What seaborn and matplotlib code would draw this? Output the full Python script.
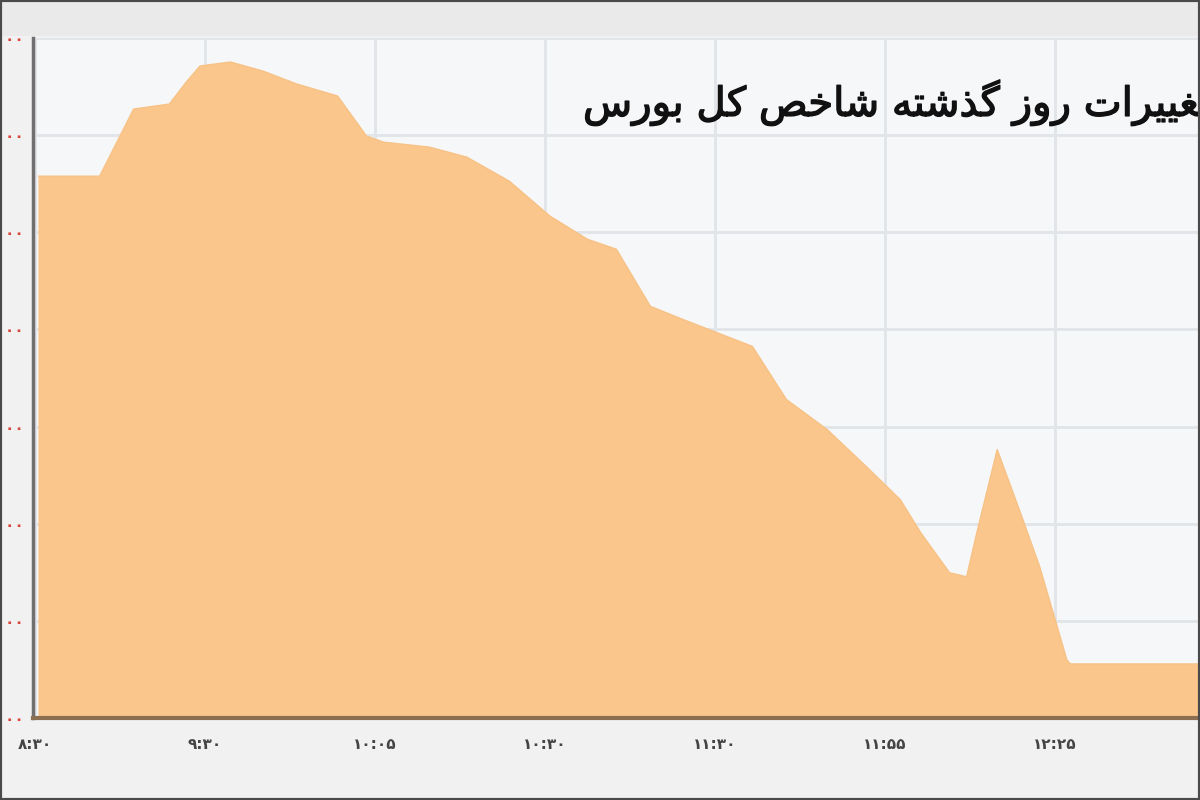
import matplotlib
matplotlib.use("Agg")
import matplotlib.pyplot as plt
import matplotlib.patheffects as pe
import seaborn as sns
import pandas as pd
from matplotlib.patches import Rectangle

# ---------------- data ----------------
title_text = "تغییرات روز گذشته شاخص کل بورس"

# positions along the session axis (tick units) and index values
session_pos = [0.02, 0.38, 0.58, 0.79, 0.89, 0.97, 1.15, 1.34, 1.54, 1.78,
               1.95, 2.05, 2.32, 2.54, 2.79, 3.03, 3.25, 3.42, 3.62, 3.81,
               4.22, 4.42, 4.66, 4.89, 5.09, 5.21, 5.38, 5.48, 5.54, 5.66,
               5.79, 5.91, 6.07, 6.09, 7.09]
index_values = [1431155, 1431155, 1432537, 1432640, 1433093, 1433423, 1433506,
                1433320, 1433052, 1432805, 1431980, 1431856, 1431753, 1431547,
                1431052, 1430330, 1429856, 1429650, 1428475, 1428207, 1427650,
                1426557, 1425938, 1425176, 1424495, 1423815, 1422990, 1422907,
                1423815, 1425526, 1424289, 1423114, 1421196, 1421113, 1421113]

x_tick_pos = [0, 1, 2, 3, 4, 5, 6, 7]
x_tick_labels = ["۸:۳۰", "۹:۳۰", "۱۰:۰۵", "۱۰:۳۰", "۱۱:۳۰", "۱۱:۵۵", "۱۲:۲۵", "۱۲:۵۵"]
y_tick_values = [1420000, 1422000, 1424000, 1426000, 1428000, 1430000, 1432000, 1434000]

df = pd.DataFrame({"pos": session_pos, "value": index_values})

# ---------------- Persian shaping helpers ----------------
FORMS = {
    'ا': ('\uFE8D', '\uFE8E', None, None),
    'ب': ('\uFE8F', '\uFE90', '\uFE91', '\uFE92'),
    'ت': ('\uFE95', '\uFE96', '\uFE97', '\uFE98'),
    'خ': ('\uFEA5', '\uFEA6', '\uFEA7', '\uFEA8'),
    'ذ': ('\uFEAB', '\uFEAC', None, None),
    'ر': ('\uFEAD', '\uFEAE', None, None),
    'ز': ('\uFEAF', '\uFEB0', None, None),
    'س': ('\uFEB1', '\uFEB2', '\uFEB3', '\uFEB4'),
    'ش': ('\uFEB5', '\uFEB6', '\uFEB7', '\uFEB8'),
    'ص': ('\uFEB9', '\uFEBA', '\uFEBB', '\uFEBC'),
    'غ': ('\uFECD', '\uFECE', '\uFECF', '\uFED0'),
    'ل': ('\uFEDD', '\uFEDE', '\uFEDF', '\uFEE0'),
    'ه': ('\uFEE9', '\uFEEA', '\uFEEB', '\uFEEC'),
    'و': ('\uFEED', '\uFEEE', None, None),
    'ک': ('\uFB8E', '\uFB8F', '\uFB90', '\uFB91'),
    'گ': ('\uFB92', '\uFB93', '\uFB94', '\uFB95'),
    'ی': ('\uFBFC', '\uFBFD', '\uFBFE', '\uFBFF'),
}


def shape_rtl(text):
    chars = list(text)
    out = []
    for i, c in enumerate(chars):
        if c not in FORMS:
            out.append(c)
            continue
        prev = chars[i - 1] if i > 0 else None
        nxt = chars[i + 1] if i + 1 < len(chars) else None
        cprev = prev in FORMS and FORMS[prev][2] is not None
        cnext = nxt in FORMS and FORMS[c][2] is not None
        iso, fin, ini, med = FORMS[c]
        if cprev and cnext:
            out.append(med)
        elif cprev:
            out.append(fin)
        elif cnext:
            out.append(ini)
        else:
            out.append(iso)
    return "".join(reversed(out))


FA_DIGITS = str.maketrans("0123456789", "۰۱۲۳۴۵۶۷۸۹")


def fa_number(v):
    return f"{v:,}".translate(FA_DIGITS)


# ---------------- figure ----------------
sns.set_theme(style="white")
plt.rcParams["font.family"] = ["DejaVu Sans"]

fig = plt.figure(figsize=(12, 8), dpi=100)
fig.patch.set_facecolor("#F1F1F1")

# top grey band
fig.add_artist(Rectangle((0, 1 - 36 / 800), 1, 36 / 800, transform=fig.transFigure,
                         facecolor="#EAEAEA", edgecolor="none", zorder=0))

ax = fig.add_axes([33 / 1200, 1 - 718 / 800, 1.0, 680 / 800])
ax.set_facecolor("#F6F7F9")

fill_color = "#FAC68C"
ax.fill_between(df["pos"], df["value"], 1410000, color=fill_color, linewidth=0, zorder=2)
sns.lineplot(data=df, x="pos", y="value", ax=ax, color="#F7C286", linewidth=1.0, zorder=3)

ax.set_xlim(-0.012, 7.047)
ax.set_ylim(1420000, 1434000)

ax.set_xticks(x_tick_pos)
ax.set_xticklabels(x_tick_labels, fontsize=11, color="#444444", fontweight="bold")
ax.set_yticks(y_tick_values)
ax.set_yticklabels([fa_number(v) for v in y_tick_values], fontsize=11,
                   color="#D9443C", fontweight="bold")
ax.tick_params(axis="both", length=0)
ax.tick_params(axis="x", pad=14)
ax.tick_params(axis="y", pad=6)

ax.grid(True, color="#E1E4E8", linewidth=2, zorder=1)
ax.set_axisbelow(True)
ax.set_xlabel("")
ax.set_ylabel("")

for s in ["top", "right"]:
    ax.spines[s].set_visible(False)
ax.spines["left"].set_color("#707070")
ax.spines["left"].set_linewidth(2.5)
ax.spines["bottom"].set_color("#8C6E50")
ax.spines["bottom"].set_linewidth(3)
ax.spines["left"].set_zorder(5)
ax.spines["bottom"].set_zorder(5)

# title (Persian, shaped & reordered for the left-to-right renderer)
fig.text(583 / 1200, 1 - 103 / 800, shape_rtl(title_text), ha="left", va="center",
         fontsize=29, color="#111111", zorder=10,
         path_effects=[pe.withStroke(linewidth=1.0, foreground="#111111")])

# outer frame lines
fig.add_artist(Rectangle((0, 0), 1, 1, transform=fig.transFigure, facecolor="none",
                         edgecolor="#4A4A4A", linewidth=3, zorder=20))

fig.savefig("out.png", dpi=100, facecolor=fig.get_facecolor())
